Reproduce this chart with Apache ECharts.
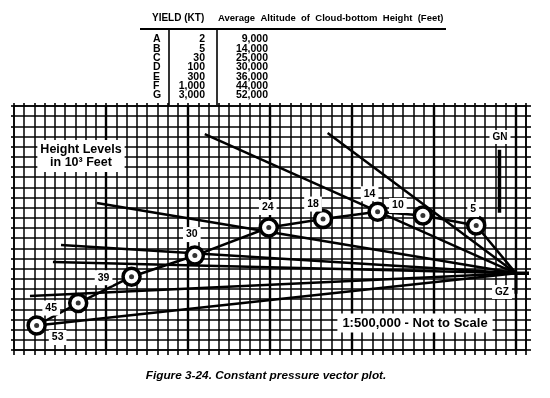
<!DOCTYPE html>
<html>
<head>
    <title>Constant pressure vector plot</title>
    <meta charset="utf-8">
    <script type="text/javascript" src="https://cdn.jsdelivr.net/npm/echarts@6/dist/echarts.min.js"></script>
    <style>
        html, body { margin: 0; padding: 0; background: #fff; }
    </style>
</head>
<body>
<div id="chartmain" style="width:550px; height:398px;"></div>
<script type="text/javascript">
// height levels (10^3 ft) and where each one sits on the plot grid (grid cells)
var heights = [53, 45, 39, 30, 24, 18, 14, 10, 5];
var levelX = [2.21, 6.27, 11.48, 17.66, 24.88, 30.18, 35.51, 39.93, 45.14];
var levelY = [2.41, 4.62, 7.21, 9.29, 12.05, 12.88, 13.60, 13.23, 12.24];
// ground zero
var gzX = 49.02, gzY = 7.54;
// far ends of the vectors drawn into GZ
var vectorStartX = [18.63, 30.63, 8.10, 4.59, 3.80, 1.56];
var vectorStartY = [21.24, 21.34, 14.45, 10.32, 8.65, 5.31];
// grid north marker
var gnX = 47.41, gnTop = 19.7, gnBottom = 13.5;
// heavier grid rulings
var heavyColumns = [9, 17, 25, 33, 41, 49];
// table
var yieldLetters = ['A', 'B', 'C', 'D', 'E', 'F', 'G'];
var yieldKt = ['2', '5', '30', '100', '300', '1,000', '3,000'];
var cloudBottomFt = ['9,000', '14,000', '25,000', '30,000', '36,000', '44,000', '52,000'];

var FONT = '"Liberation Sans", Arial, sans-serif';
// label offsets (px) from each circle
var labelOffsets = [[21, 12], [-27, 5], [-28, 1], [-3, -21], [-1, -20], [-10, -15], [-8, -18], [-25, -10], [-3, -16]];

var pathData = [];
for (var i = 0; i < heights.length; i++) {
    pathData.push([levelX[i], levelY[i]]);
}
pathData.push([gzX, gzY]);

var levelPoints = heights.map(function (h, i) {
    return {
        value: [levelX[i], levelY[i]],
        label: { offset: labelOffsets[i] }
    };
});

var series = [];
// heavier vertical rulings
series.push({
    type: 'line',
    data: [],
    silent: true,
    markLine: {
        symbol: 'none',
        silent: true,
        label: { show: false },
        lineStyle: { color: '#000', width: 2.4, type: 'solid' },
        data: heavyColumns.map(function (c) { return { xAxis: c }; })
    },
    z: 1
});
// vectors into GZ
for (var k = 0; k < vectorStartX.length; k++) {
    series.push({
        type: 'line',
        data: [[vectorStartX[k], vectorStartY[k]], [gzX, gzY]],
        symbol: 'none',
        lineStyle: { color: '#000', width: 2.5 },
        z: 3, silent: true
    });
}
// line from lowest height level to GZ
series.push({
    type: 'line',
    data: [[levelX[0], levelY[0]], [gzX, gzY]],
    symbol: 'none',
    lineStyle: { color: '#000', width: 2.5 },
    z: 3
});
// path joining the height levels
series.push({
    type: 'line',
    data: pathData,
    symbol: 'none',
    lineStyle: { color: '#000', width: 2.5 },
    z: 3
});
// GZ stub lines
series.push({
    type: 'line',
    data: [[gzX, gzY], [gzX, gzY - 2.0]],
    symbol: 'none',
    lineStyle: { color: '#000', width: 3 },
    z: 3
});
series.push({
    type: 'line',
    data: [[gzX, gzY], [50.5, gzY]],
    symbol: 'none',
    lineStyle: { color: '#000', width: 3.5 },
    z: 3
});
// GN marker
series.push({
    type: 'line',
    data: [[gnX, gnTop], [gnX, gnBottom]],
    symbol: 'none',
    lineStyle: { color: '#000', width: 3.5 },
    z: 3
});
// circles with labels
series.push({
    type: 'scatter',
    data: levelPoints,
    symbol: 'circle',
    symbolSize: 17,
    itemStyle: { color: '#fff', borderColor: '#000', borderWidth: 3.5, opacity: 1 },
    label: {
        show: true,
        position: 'inside',
        formatter: function (p) { return heights[p.dataIndex]; },
        color: '#000',
        fontFamily: FONT,
        fontWeight: 'bold',
        fontSize: 10.5,
        backgroundColor: '#fff',
        padding: [2, 3]
    },
    z: 5
});
series.push({
    type: 'scatter',
    data: pathData.slice(0, heights.length),
    symbol: 'circle',
    symbolSize: 5,
    itemStyle: { color: '#000' },
    z: 6
});

// table texts
var graphics = [];
graphics.push({
    type: 'text', z: 100,
    style: { text: 'YIELD (KT)', x: 152, y: 18, font: 'bold 10px ' + FONT, fill: '#000', textVerticalAlign: 'middle' }
});
graphics.push({
    type: 'text', z: 100,
    style: { text: 'Average  Altitude  of  Cloud-bottom  Height  (Feet)', x: 218, y: 18, font: 'bold 9.5px ' + FONT, fill: '#000', textVerticalAlign: 'middle' }
});
graphics.push({ type: 'line', z: 100, shape: { x1: 140, y1: 29, x2: 446, y2: 29 }, style: { stroke: '#000', lineWidth: 1.8 } });
graphics.push({ type: 'line', z: 100, shape: { x1: 169, y1: 29, x2: 169, y2: 105 }, style: { stroke: '#000', lineWidth: 1.6 } });
graphics.push({ type: 'line', z: 100, shape: { x1: 217, y1: 29, x2: 217, y2: 105 }, style: { stroke: '#000', lineWidth: 1.6 } });
for (var r = 0; r < yieldLetters.length; r++) {
    var ty = 39.5 + r * 9.3;
    graphics.push({ type: 'text', z: 100, style: { text: yieldLetters[r], x: 153, y: ty, font: 'bold 10.5px ' + FONT, fill: '#000', textVerticalAlign: 'middle' } });
    graphics.push({ type: 'text', z: 100, style: { text: yieldKt[r], x: 205, y: ty, font: 'bold 10.5px ' + FONT, fill: '#000', textAlign: 'right', textVerticalAlign: 'middle' } });
    graphics.push({ type: 'text', z: 100, style: { text: cloudBottomFt[r], x: 268, y: ty, font: 'bold 10.5px ' + FONT, fill: '#000', textAlign: 'right', textVerticalAlign: 'middle' } });
}
// chart annotations
graphics.push({
    type: 'text', z: 100,
    style: { text: 'Height Levels\nin 10\u00b3 Feet', x: 81, y: 156, font: 'bold 12.5px ' + FONT, fill: '#000', textAlign: 'center', textVerticalAlign: 'middle', lineHeight: 13, backgroundColor: '#fff', padding: [3, 3] }
});
graphics.push({
    type: 'text', z: 100,
    style: { text: '1:500,000 - Not to Scale', x: 415, y: 323, font: 'bold 13px ' + FONT, fill: '#000', textAlign: 'center', textVerticalAlign: 'middle', backgroundColor: '#fff', padding: [3, 5] }
});
graphics.push({
    type: 'text', z: 100,
    style: { text: 'GN', x: 500, y: 137, font: 'bold 10px ' + FONT, fill: '#000', textAlign: 'center', textVerticalAlign: 'middle', backgroundColor: '#fff', padding: [2, 3] }
});
graphics.push({
    type: 'text', z: 100,
    style: { text: 'GZ', x: 502, y: 292, font: 'bold 10px ' + FONT, fill: '#000', textAlign: 'center', textVerticalAlign: 'middle', backgroundColor: '#fff', padding: [2, 3] }
});
graphics.push({
    type: 'text', z: 100,
    style: { text: 'Figure 3-24. Constant pressure vector plot.', x: 266, y: 376, font: 'italic bold 11.8px ' + FONT, fill: '#000', textAlign: 'center', textVerticalAlign: 'middle' }
});

function cellAxis(max, pos, tickLen, withSplit) {
    return {
        type: 'value', min: 0, max: max, interval: 1, position: pos,
        axisLine: { show: true, onZero: false, lineStyle: { color: '#000', width: 1.6 } },
        axisTick: { show: true, inside: false, length: tickLen, lineStyle: { color: '#000', width: 1.6 } },
        axisLabel: { show: false },
        splitLine: { show: withSplit, lineStyle: { color: '#000', width: 1.5 } }
    };
}

var option = {
    animation: false,
    backgroundColor: '#fff',
    grid: { left: 14, right: 24, top: 106, bottom: 48 },
    xAxis: [cellAxis(50, 'bottom', 5, true), cellAxis(50, 'top', 3, false)],
    yAxis: [cellAxis(24, 'left', 3, true), cellAxis(24, 'right', 5, false)],
    graphic: graphics,
    series: series
};

var myChart = echarts.init(document.getElementById('chartmain'));
myChart.setOption(option);
</script>
</body>
</html>
